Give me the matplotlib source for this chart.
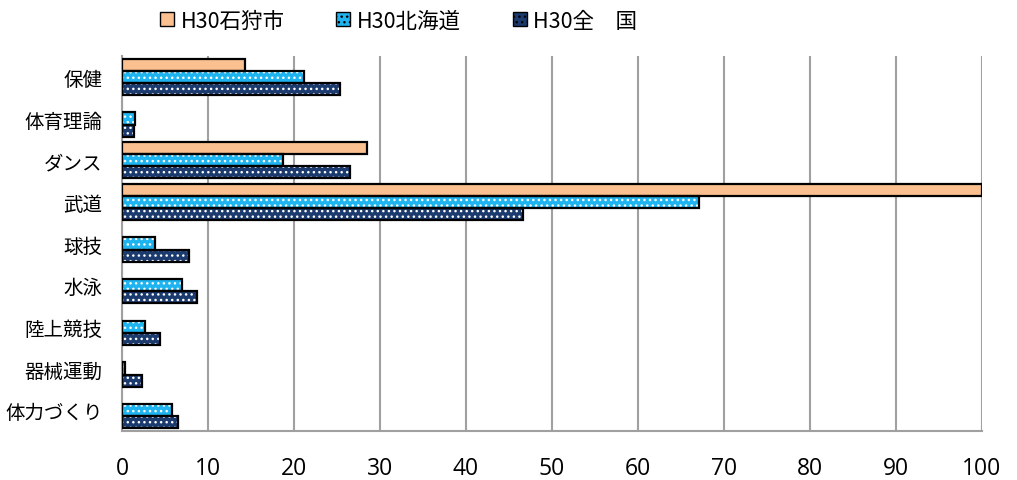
import numpy as np
import matplotlib
matplotlib.use("Agg")
import matplotlib.pyplot as plt
from matplotlib.patches import Patch

plt.rcParams['font.family'] = ['Noto Sans CJK JP', 'DejaVu Sans']
plt.rcParams['hatch.linewidth'] = 1.0

categories = ["保健", "体育理論", "ダンス", "武道", "球技", "水泳", "陸上競技", "器械運動", "体力づくり"]
series_names = ["H30石狩市", "H30北海道", "H30全\u3000国"]
ishikari = [14.3, 0, 28.5, 100, 0, 0, 0, 0, 0]
hokkaido = [21.2, 1.5, 18.7, 67.1, 3.8, 7.0, 2.7, 0.3, 5.8]
zenkoku = [25.3, 1.4, 26.5, 46.6, 7.8, 8.7, 4.4, 2.3, 6.5]

colors = ["#FAC090", "#1EB4F0", "#1B3A6E"]
hatches = [None, "...", "..."]

fig = plt.figure(figsize=(10.17, 4.81), dpi=100)
ax = fig.add_axes([0.120, 0.1019, 0.8456, 0.7796])

y = np.arange(len(categories))
h = 0.29
for i, vals in enumerate([ishikari, hokkaido, zenkoku]):
    pos = y + (i - 1) * h
    vals = np.array(vals)
    mask = vals > 0
    # fill + white dots, then black outline on top
    ax.barh(pos[mask], vals[mask], height=h, color=colors[i], hatch=hatches[i],
            edgecolor="white", linewidth=0, zorder=2)
    ax.barh(pos[mask], vals[mask], height=h, fill=False, edgecolor="black",
            linewidth=1.6, zorder=3)

ax.set_xlim(0, 100)
ax.set_ylim(len(categories) - 0.5, -0.5)
ax.set_xticks(range(0, 101, 10))
ax.set_yticks(y)
ax.set_yticklabels(categories, fontsize=14)
ax.tick_params(axis='x', labelsize=16.5, length=0, pad=18)
ax.tick_params(axis='y', length=0, pad=14)
for lab in ax.get_xticklabels():
    lab.set_family(['Open Sans', 'DejaVu Sans'])
ax.grid(axis='x', color="#A0A0A0", linewidth=1.5, zorder=0)
ax.set_axisbelow(True)
for s in ['top', 'right']:
    ax.spines[s].set_visible(False)
for s in ['left', 'bottom']:
    ax.spines[s].set_color("#A0A0A0")
    ax.spines[s].set_linewidth(1.5)

handles = [Patch(facecolor=colors[i], edgecolor="black", hatch=hatches[i], linewidth=1)
           for i in range(3)]
fig.legend(handles, series_names, loc='center', bbox_to_anchor=(0.392, 0.955), ncol=3,
           frameon=False, fontsize=15.5, handlelength=0.65, handleheight=0.65,
           handletextpad=0.3, columnspacing=2.4)

fig.savefig("out.png", dpi=100)
